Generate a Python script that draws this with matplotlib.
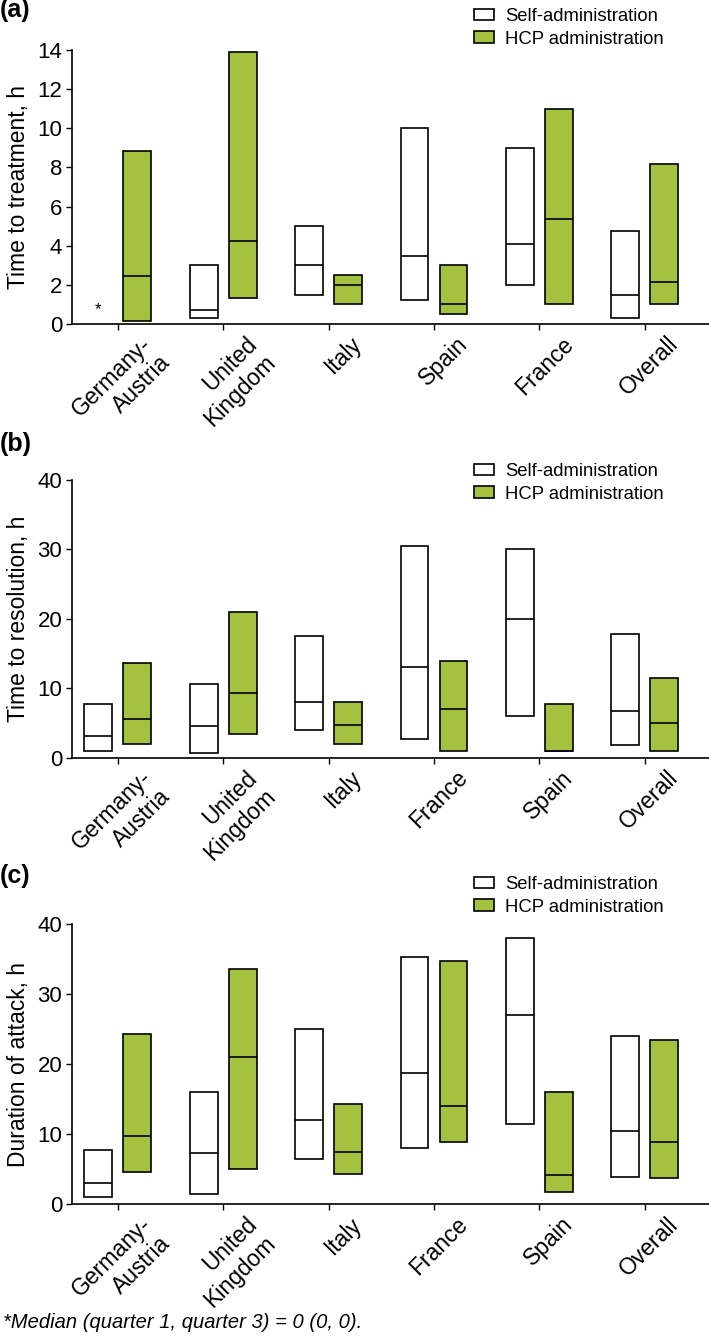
import matplotlib
matplotlib.use("Agg")
import matplotlib.pyplot as plt
import numpy as np
from matplotlib.patches import Patch
from matplotlib.transforms import ScaledTranslation

plt.rcParams['font.family'] = ['Liberation Sans', 'DejaVu Sans']

GREEN = '#A5C140'

# Panel (a): time to treatment
cats_a = ['Germany-\nAustria', 'United\nKingdom', 'Italy', 'Spain', 'France', 'Overall']
self_a_q1 = [np.nan, 0.3, 1.5, 1.22, 2.0, 0.33]
self_a_med = [np.nan, 0.7, 3.0, 3.5, 4.1, 1.5]
self_a_q3 = [np.nan, 3.0, 5.0, 10.0, 9.0, 4.75]
hcp_a_q1 = [0.17, 1.33, 1.0, 0.5, 1.0, 1.0]
hcp_a_med = [2.45, 4.25, 2.0, 1.0, 5.34, 2.16]
hcp_a_q3 = [8.85, 13.9, 2.5, 3.0, 11.0, 8.18]

# Panel (b): time to resolution
cats_b = ['Germany-\nAustria', 'United\nKingdom', 'Italy', 'France', 'Spain', 'Overall']
self_b_q1 = [0.91, 0.67, 4.0, 2.74, 6.0, 1.87]
self_b_med = [3.07, 4.5, 8.0, 13.0, 20.0, 6.67]
self_b_q3 = [7.78, 10.6, 17.5, 30.5, 30.0, 17.77]
hcp_b_q1 = [2.0, 3.46, 2.0, 1.0, 1.0, 1.0]
hcp_b_med = [5.6, 9.27, 4.75, 7.0, 1.0, 5.0]
hcp_b_q3 = [13.7, 21.0, 8.0, 14.0, 7.68, 11.48]

# Panel (c): duration of attack
cats_c = ['Germany-\nAustria', 'United\nKingdom', 'Italy', 'France', 'Spain', 'Overall']
self_c_q1 = [1.0, 1.52, 6.52, 8.05, 11.52, 3.9]
self_c_med = [3.05, 7.33, 12.0, 18.8, 27.05, 10.52]
self_c_q3 = [7.71, 16.05, 25.0, 35.38, 38.05, 24.05]
hcp_c_q1 = [4.67, 5.0, 4.38, 8.95, 1.76, 3.76]
hcp_c_med = [9.76, 21.05, 7.52, 14.0, 4.19, 8.95]
hcp_c_q3 = [24.3, 33.57, 14.29, 34.7, 16.0, 23.52]

W, H = 709, 1339
fig = plt.figure(figsize=(W / 100, H / 100), dpi=100)

def fy(px):
    return 1 - px / H

left = 72 / W
panels = [
    dict(label='(a)', ylabel='Time to treatment, h', cats=cats_a,
         s=(self_a_q1, self_a_med, self_a_q3), h=(hcp_a_q1, hcp_a_med, hcp_a_q3),
         ymax=14, yticks=np.arange(0, 15, 2), top=50, bot=324, lab_y=-2, leg_y=8),
    dict(label='(b)', ylabel='Time to resolution, h', cats=cats_b,
         s=(self_b_q1, self_b_med, self_b_q3), h=(hcp_b_q1, hcp_b_med, hcp_b_q3),
         ymax=40, yticks=np.arange(0, 41, 10), top=480, bot=757.7, lab_y=432, leg_y=463),
    dict(label='(c)', ylabel='Duration of attack, h', cats=cats_c,
         s=(self_c_q1, self_c_med, self_c_q3), h=(hcp_c_q1, hcp_c_med, hcp_c_q3),
         ymax=40, yticks=np.arange(0, 41, 10), top=924.3, bot=1204.3, lab_y=864, leg_y=876),
]

off = 0.185
bw = 0.265
lw = 1.2

for p in panels:
    ax = fig.add_axes([left, fy(p['bot']), 1 - left, fy(p['top']) - fy(p['bot'])])
    x = np.arange(len(p['cats']))
    for (q1, med, q3), dx, col in [(p['s'], -off, 'white'), (p['h'], off, GREEN)]:
        q1 = np.array(q1, float); med = np.array(med, float); q3 = np.array(q3, float)
        ok = ~np.isnan(q1)
        ax.bar(x[ok] + dx, (q3 - q1)[ok], bottom=q1[ok], width=bw, color=col,
               edgecolor='black', linewidth=lw, zorder=2)
        ax.hlines(med[ok], x[ok] + dx - bw / 2, x[ok] + dx + bw / 2, color='black',
                  linewidth=lw, zorder=3)
    ax.set_xlim(-0.436, 5.61)
    ax.set_ylim(0, p['ymax'])
    ax.set_yticks(p['yticks'])
    ax.tick_params(axis='y', length=4, width=1, pad=3)
    for t in ax.get_yticklabels():
        t.set_fontfamily(['Liberation Sans Narrow', 'Liberation Sans'])
        t.set_fontsize(16)
    ax.tick_params(axis='x', labelsize=16.5, length=4, width=1, pad=2)
    ax.set_xticks(x)
    ax.set_xticklabels(p['cats'], rotation=45, ha='right', va='top',
                       rotation_mode='anchor', multialignment='right')
    for t in ax.get_xticklabels():
        t.set_transform(t.get_transform() + ScaledTranslation(0.22, 0, fig.dpi_scale_trans))
    for s in ['top', 'right']:
        ax.spines[s].set_visible(False)
    for s in ['left', 'bottom']:
        ax.spines[s].set_linewidth(1.2)
    ax.set_ylabel(p['ylabel'], fontsize=16.5, labelpad=5)
    fig.text(0 / W, fy(p['lab_y']), p['label'], fontsize=18, fontweight='bold',
             ha='left', va='top')
    handles = [Patch(facecolor='white', edgecolor='black', linewidth=1.2, label='Self-administration'),
               Patch(facecolor=GREEN, edgecolor='black', linewidth=1.2, label='HCP administration')]
    fig.legend(handles=handles, loc='upper left', bbox_to_anchor=(474 / W, fy(p['leg_y'])),
               frameon=False, fontsize=13.3, handlelength=1.1, handleheight=0.6,
               handletextpad=0.6, labelspacing=0.3, borderpad=0, borderaxespad=0)

# asterisk for Germany-Austria self-administration in panel (a)
axa = fig.axes[0]
axa.text(0 - off, 0.35, '*', ha='center', va='bottom', fontsize=12)

fig.text(3 / W, fy(1322), '*Median (quarter 1, quarter 3) = 0 (0, 0).', fontsize=14.5,
         style='italic', ha='left', va='center')

fig.savefig('out.png', dpi=100)
